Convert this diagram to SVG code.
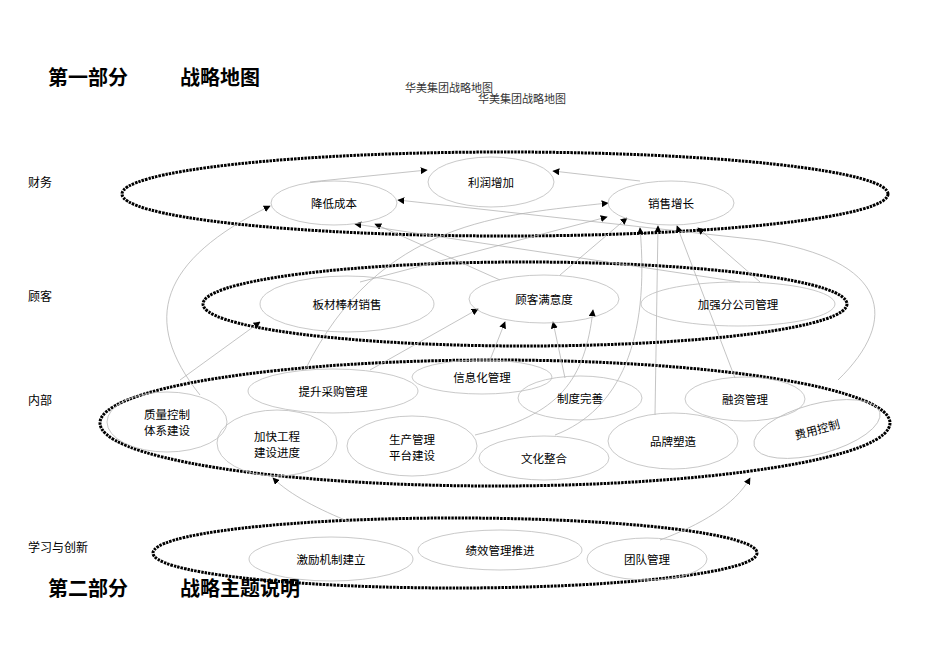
<svg xmlns="http://www.w3.org/2000/svg" width="950" height="672" viewBox="0 0 950 672">
<style>
.big{fill:none;stroke:#000;stroke-width:3;stroke-dasharray:2.5 1}
.n ellipse{fill:none;stroke:#bbb;stroke-width:0.8}
.n text,.lab{font-family:"Liberation Sans","Noto Sans CJK SC",sans-serif;font-size:11.5px;fill:#000;text-anchor:middle}
.lab{text-anchor:start;font-size:12px}
.h{font-family:"Liberation Sans","Noto Sans CJK SC",sans-serif;font-size:20px;font-weight:bold}
.t{font-family:"Liberation Serif","Noto Sans CJK SC",serif;font-size:11px;fill:#333}
#c path{fill:none;stroke:#aaa;stroke-width:0.7;marker-end:url(#a)}
</style>
<defs><marker id="a" viewBox="0 0 10 10" refX="9" refY="5" markerWidth="7" markerHeight="7" orient="auto" markerUnits="userSpaceOnUse"><path d="M0,0L10,5L0,10z" fill="#000"/></marker></defs>
<rect width="950" height="672" fill="#fff"/>
<text class="h" x="48" y="85">第一部分</text><text class="h" x="180" y="85">战略地图</text>
<text class="h" x="48" y="596">第二部分</text><text class="h" x="180" y="596">战略主题说明</text>
<text class="t" x="405" y="92">华美集团战略地图</text><text class="t" x="478" y="103">华美集团战略地图</text>
<text class="lab" x="28" y="187">财务</text><text class="lab" x="28" y="301">顾客</text><text class="lab" x="28" y="405">内部</text><text class="lab" x="28" y="552">学习与创新</text>
<ellipse class="big" cx="505" cy="194" rx="383" ry="42"/>
<ellipse class="big" cx="525" cy="304" rx="322" ry="42"/>
<ellipse class="big" cx="495" cy="423" rx="395" ry="63"/>
<ellipse class="big" cx="455" cy="553" rx="302" ry="35"/>
<g id="c">
<path d="M310,182L427,170"/>
<path d="M640,181L553,171"/>
<path d="M838,380C900,320 890,260 760,240L398,200"/>
<path d="M500,280L375,224"/>
<path d="M740,282L355,224"/>
<path d="M200,395C140,320 160,260 270,206"/>
<path d="M305,370C380,220 500,215 608,203"/>
<path d="M360,282L607,217"/>
<path d="M560,275L627,218"/>
<path d="M555,435C620,410 650,340 640,228"/>
<path d="M655,415L658,226"/>
<path d="M735,378L677,226"/>
<path d="M760,282L698,228"/>
<path d="M180,380L260,322"/>
<path d="M370,370L478,309"/>
<path d="M490,360L505,322"/>
<path d="M565,378L553,322"/>
<path d="M475,435C560,415 585,380 593,310"/>
<path d="M350,522C320,510 290,495 273,478"/>
<path d="M660,540C700,525 735,505 750,478"/>
</g>
<g id="n1" class="n"><ellipse cx="491" cy="182" rx="63" ry="25"/><text x="491" y="187">利润增加</text></g>
<g id="n2" class="n"><ellipse cx="334" cy="203" rx="63" ry="22"/><text x="334" y="208">降低成本</text></g>
<g id="n3" class="n"><ellipse cx="671" cy="203" rx="63" ry="22"/><text x="671" y="208">销售增长</text></g>
<g id="n4" class="n"><ellipse cx="347" cy="304" rx="87" ry="28"/><text x="347" y="309">板材棒材销售</text></g>
<g id="n5" class="n"><ellipse cx="544" cy="299" rx="75" ry="24"/><text x="544" y="304">顾客满意度</text></g>
<g id="n6" class="n"><ellipse cx="738" cy="304" rx="97" ry="22"/><text x="738" y="309">加强分公司管理</text></g>
<g id="n7" class="n"><ellipse cx="333" cy="391" rx="85" ry="22"/><text x="333" y="396">提升采购管理</text></g>
<g id="n8" class="n"><ellipse cx="482" cy="377" rx="70" ry="17"/><text x="482" y="382">信息化管理</text></g>
<g id="n9" class="n"><ellipse cx="580" cy="398" rx="62" ry="22"/><text x="580" y="403">制度完善</text></g>
<g id="n10" class="n"><ellipse cx="745" cy="399" rx="60" ry="22"/><text x="745" y="404">融资管理</text></g>
<g id="n11" class="n"><ellipse cx="167" cy="422" rx="60" ry="30"/><text x="167" y="419">质量控制</text><text x="167" y="435">体系建设</text></g>
<g id="n12" class="n"><ellipse cx="277" cy="443" rx="60" ry="33"/><text x="277" y="441">加快工程</text><text x="277" y="457">建设进度</text></g>
<g id="n13" class="n"><ellipse cx="412" cy="446" rx="65" ry="30"/><text x="412" y="444">生产管理</text><text x="412" y="460">平台建设</text></g>
<g id="n14" class="n"><ellipse cx="544" cy="458" rx="65" ry="22"/><text x="544" y="463">文化整合</text></g>
<g id="n15" class="n"><ellipse cx="673" cy="441" rx="65" ry="28"/><text x="673" y="446">品牌塑造</text></g>
<g id="n16" class="n"><ellipse cx="817" cy="429" rx="65" ry="25" transform="rotate(-15 817 429)"/><text x="817" y="434" transform="rotate(-15 817 429)">费用控制</text></g>
<g id="n17" class="n"><ellipse cx="331" cy="559" rx="82" ry="22"/><text x="331" y="564">激励机制建立</text></g>
<g id="n18" class="n"><ellipse cx="500" cy="550" rx="82" ry="20"/><text x="500" y="555">绩效管理推进</text></g>
<g id="n19" class="n"><ellipse cx="647" cy="559" rx="60" ry="21"/><text x="647" y="564">团队管理</text></g>
</svg>
